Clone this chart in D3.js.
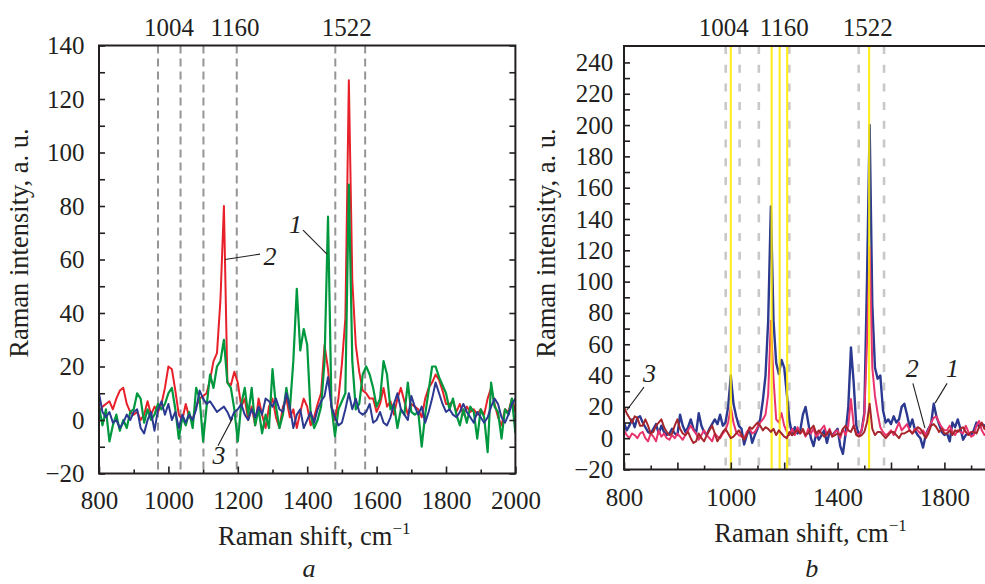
<!DOCTYPE html>
<html lang="en">
<head>
<meta charset="UTF-8">
<title>Raman spectra (a, b)</title>
<script src="https://cdn.jsdelivr.net/npm/d3@7"></script>
<style>
    body { margin: 0; background: #fff; }
    svg { display: block; }
    svg text { font-family: 'Liberation Serif', 'DejaVu Serif', 'Times New Roman', Times, serif; }
</style>
</head>
<body>
<svg width="985" height="584"></svg>
<script>
    // ---------- data ----------

    // panel a: Raman shift grid, cm-1
    const shiftA = d3.range(800, 2001, 10);

    // curve 1 (green)
    const spectrumA1 = [
        5, -2, 4, -8, -2, 2, -4, 0, -3, 3,          // 800
        4, 10, 8, -1, 4, 0, 2, 6, 4, 6,             // 900
        10, 12, 4, -7, 1, -2, 3, -3, 12, 8,         // 1000
        -8, 5, 17, 12, 20, 22, 30, 14, 12, 4,       // 1100
        -8, 6, 12, 2, 12, -2, 4, -5, 2, -3,         // 1200
        19, 5, -3, 2, 12, 4, 22, 49, 26, 34,        // 1300
        28, 2, -3, 0, 5, 22, 76, 5, -6, 4,          // 1400
        7, 10, 88, 22, 4, 6, 17, 20, 17, 12,        // 1500
        5, 8, 22, 17, 4, 6, -3, 4, 2, 14,           // 1600
        3, 2, 3, -10, 2, 11, 20, 20, 16, 13,        // 1700
        10, 4, 8, 2, -2, 4, -1, 5, 3, -7,           // 1800
        4, 1, -12, 14, 5, 3, -7, 4, 2, 8,           // 1900
        -5];
    // curve 2 (red)
    const spectrumA2 = [
        3, 5, 6, 7, 4, 8, 11, 12, 6, 3,
        2, 3, 0, 2, 7, 2, 5, 3, 6, 12,
        20, 19, 11, 2, 0, 6, 1, 0, 5, 8,
        9, 10, 15, 22, 25, 45, 80, 14, 13, 18,
        14, 5, 8, 0, 5, -2, 8, 2, -3, 5,
        8, 1, -3, 5, 8, 1, 4, -3, 3, 8,
        5, -2, 1, 6, 10, 28, 19, 5, 0, 8,
        21, 38, 127, 52, 28, 18, 11, 10, 8, 8,
        3, 6, 12, 5, 7, 2, 8, 12, 7, 2,
        6, 5, 4, 1, 8, 12, 14, 17, 15, 11,
        6, 6, 7, 3, 6, 2, 5, 3, 4, 2,
        4, 2, 8, 12, 6, 1, -2, 4, 3, 8,
        3];
    // curve 3 (blue)
    const spectrumA3 = [
        10, 3, 1, 3, -1, 0, -3, -1, 2, 0,
        3, 4, -3, -5, 0, 3, -4, 4, 7, 2,
        6, 0, 3, -3, 2, -1, 2, 0, 4, 11,
        8, 6, 7, 5, 3, 4, 5, 3, 0, 3,
        4, 6, 2, 0, 4, 1, 5, 2, 8, 7,
        5, 8, 4, 3, 10, 5, -3, 2, 4, -3,
        0, 3, -1, 4, 7, 9, 16, 5, 1, -2,
        -1, 4, 10, 4, 8, 3, 2, 3, 6, -1,
        0, 3, -1, -2, 1, 6, 10, 4, 2, 0,
        9, 5, 2, 5, -1, 3, 8, 14, 10, 6,
        3, 4, 2, 1, 3, 6, 3, 1, -1, 3,
        1, -1, 1, 5, 8, 6, 1, -1, 2, 6,
        8];

    // panel b: Raman shift grid, cm-1
    const shiftB = d3.range(600, 1961, 10);

    // curve 1 (blue)
    const spectrumB1 = [
        10, 5, 8, 12, 7, 13, 14, 10, 7, 4,          // 600
        3, 6, 9, 3, 8, 4, 2, 3, 6, 3,               // 700
        2, 15, 8, 4, 7, 12, 6, 3, 16, 8,            // 800
        4, 2, 6, 9, 12, 9, 15, 8, 10, 20,           // 900
        40, 22, 14, 8, 6, -4, 2, 6, -3, 2,          // 1000
        6, 12, 24, 40, 75, 148, 75, 48, 41, 50,     // 1100
        45, 28, 11, 2, 7, 3, 5, 15, 20, 10,         // 1200
        0, -5, 3, -1, 2, 5, -3, 4, 2, 4,            // 1300
        6, -5, -10, 3, 20, 58, 36, 8, 2, 5,         // 1400
        16, 100, 200, 85, 45, 38, 40, 18, 10, 12,   // 1500
        9, 14, 10, 12, 20, 22, 15, 7, 12, 5,        // 1600
        2, 0, -6, 2, 6, 9, 22, 14, 9, 4,            // 1700
        2, 3, -2, 10, 7, 12, 6, -1, 2, 3,           // 1800
        2, 5, 10, 7, 9, 8, 6];                      // 1900
    // curve 2 (pink)
    const spectrumB2 = [
        5, 2, 0, 3, 2, 0, 3, 4, 0, -2,
        3, 1, -2, 5, 1, 3, 0, -1, 2, 0,
        3, 1, -1, 2, 5, 8, 5, 3, -1, 2,
        5, 2, 0, -2, 3, 1, 0, 3, 5, 10,
        20, 10, 4, 2, 1, 0, 4, 6, 3, 4,
        7, 10, 12, 15, 28, 75, 38, 12, 10, 16,
        8, 4, 2, 6, 2, 7, 3, 5, 1, 6,
        3, 6, 1, 3, 6, 8, 2, 6, 1, 4,
        5, 0, 6, 2, 8, 25, 9, 3, 2, 5,
        14, 60, 122, 45, 27, 16, 7, 4, 2, 3,
        5, 2, 6, 10, 5, 7, 9, 5, 3, 6,
        5, 3, 5, 2, 5, 10, 13, 14, 10, 7,
        5, 5, 8, 4, 2, 5, 4, 3, 8, 4,
        1, 2, 8, 11, 5, 2, 3];
    // curve 3 (dark red)
    const spectrumB3 = [
        20, 16, 13, 10, 14, 13, 8, 8, 12, 8,
        3, 4, 8, 10, 12, 7, 4, 2, 3, 8,
        12, 6, 3, 2, 4, 0, -3, -2, 3, 0,
        -2, 2, 5, 8, 3, -2, 1, 4, 6, 3,
        0, 1, 3, 5, 2, -1, 2, 7, 6, 8,
        10, 8, 5, 7, 6, 4, 6, 2, 5, 3,
        1, 0, 4, 2, 4, 5, 3, 6, 2, 3,
        6, 8, 3, 5, 3, 1, 3, 5, 1, 2,
        3, 2, 6, 8, 5, 4, 8, 2, 1, 2,
        4, 10, 22, 6, 2, 4, 4, 2, 0, 2,
        4, 4, 2, 0, 3, 3, 4, 5, 3, 5,
        7, 6, 3, 0, 3, 8, 9, 7, 4, 6,
        3, 3, 5, 2, 5, 4, 6, 7, 4, 2,
        4, 4, 3, 7, 10, 6, 5];

    // band markers, cm-1
    const bandLabels = ["1004", "1160", "1522"];
    const dashedA = [970, 1035, 1101, 1197, 1481, 1567];
    const dashedB = [981, 1033, 1105, 1219, 1479, 1574];
    const yellowB = [1000, 1153, 1183, 1211, 1518];

    // ticks
    const xMajorA = [800, 1000, 1200, 1400, 1600, 1800, 2000];
    const xMinorA = [900, 1100, 1300, 1500, 1700, 1900];
    const xLabelA = ["800", "1000", "1200", "1400", "1600", "1800", "2000"];
    const yMajorA = [-20, 0, 20, 40, 60, 80, 100, 120, 140];
    const yMinorA = [-10, 10, 30, 50, 70, 90, 110, 130];

    const xMajorB = [600, 800, 1000, 1200, 1400, 1600, 1800, 2000];
    const xMinorB = [700, 900, 1100, 1300, 1500, 1700, 1900];
    const xTickB = [600, 1000, 1400, 1800];
    const xLabelB = ["800", "1000", "1400", "1800"];   // printed as in the original figure
    const yMajorB = [-20, 0, 20, 40, 60, 80, 100, 120, 140, 160, 180, 200, 220, 240];
    const yMinorB = [-10, 10, 30, 50, 70, 90, 110, 130, 150, 170, 190, 210, 230];

    const curveLabels = ["1", "2", "3"];

    // ---------- drawing ----------
    let svg = d3.select("svg");
    const ink = "#231f20";
    const serif = "'Liberation Serif', 'DejaVu Serif', 'Times New Roman', Times, serif";

    function drawPanel(p) {
        let g = svg.append("g");
        let x = d3.scaleLinear().domain(p.xDomain).range(p.xRange);
        let y = d3.scaleLinear().domain(p.yDomain).range(p.yRange);
        let [x0, x1] = p.xRange;
        let [yb, yt] = p.yRange;

        // clip region = plot frame
        g.append("clipPath").attr("id", "clip-" + p.id)
            .append("rect")
            .attr("x", x0).attr("y", yt)
            .attr("width", x1 - x0).attr("height", yb - yt);
        let plot = g.append("g").attr("clip-path", `url(#clip-${p.id})`);

        // dashed grey band lines
        plot.selectAll(".dash").data(p.dashed).enter().append("line")
            .attr("x1", d => x(d)).attr("x2", d => x(d))
            .attr("y1", yt).attr("y2", yb)
            .attr("stroke", p.dashColor)
            .attr("stroke-width", p.dashWidth)
            .attr("stroke-dasharray", p.dashArray);

        function drawSolid() {
            plot.selectAll(".solid").data(p.solid).enter().append("line")
                .attr("x1", d => x(d)).attr("x2", d => x(d))
                .attr("y1", yt).attr("y2", yb)
                .attr("stroke", "#ffec00")
                .attr("stroke-opacity", 0.85)
                .attr("stroke-width", 2.2);
        }

        let line = d3.line()
            .x((d, i) => x(p.shift[i]))
            .y(d => y(d));

        p.series.forEach((s, i) => {
            if (i === p.solidAt) drawSolid();
            plot.append("path")
                .datum(s.values)
                .attr("fill", "none")
                .attr("stroke", s.color)
                .attr("stroke-width", s.width)
                .attr("stroke-linejoin", "round")
                .attr("d", line);
        });

        // axes (ticks point inside)
        let bottom = g.append("g").attr("transform", `translate(0,${yb})`);
        bottom.append("g").call(d3.axisBottom(x)
            .tickValues(p.xMajor)
            .tickFormat(d => {
                let k = p.xTick.indexOf(d);
                return k < 0 ? "" : p.xLabel[k];
            })
            .tickSize(-7).tickSizeOuter(0).tickPadding(p.xPad));
        bottom.append("g").call(d3.axisBottom(x)
            .tickValues(p.xMinor).tickFormat("")
            .tickSize(-4).tickSizeOuter(0));

        let left = g.append("g").attr("transform", `translate(${x0},0)`);
        left.append("g").call(d3.axisLeft(y)
            .tickValues(p.yMajor)
            .tickSize(-6).tickSizeOuter(0).tickPadding(p.yPad));
        left.append("g").call(d3.axisLeft(y)
            .tickValues(p.yMinor).tickFormat("")
            .tickSize(-6).tickSizeOuter(0));

        if (p.mirror) {
            let right = g.append("g").attr("transform", `translate(${x1},0)`);
            right.append("g").call(d3.axisRight(y)
                .tickValues(p.yMajor.concat(p.yMinor)).tickFormat("")
                .tickSize(-6).tickSizeOuter(0));
        }

        g.selectAll(".domain").remove();
        g.selectAll(".tick line").attr("stroke", ink).attr("stroke-width", 1.6);
        g.selectAll("g").attr("font-family", null);
        g.selectAll(".tick text")
            .attr("font-family", serif)
            .attr("font-size", 25)
            .attr("fill", ink);

        // frame
        g.append("path")
            .attr("d", p.box
                ? `M${x0},${yt}H${x1}V${yb}H${x0}Z`
                : `M${x1},${yt}H${x0}V${yb}H${x1}`)
            .attr("fill", "none")
            .attr("stroke", ink)
            .attr("stroke-width", 2);

        // band labels above the frame
        g.selectAll(".band").data(bandLabels).enter().append("text")
            .attr("x", (d, i) => x(p.bandPos[i]))
            .attr("y", 36)
            .attr("text-anchor", "middle")
            .attr("font-family", serif)
            .attr("font-size", 25)
            .attr("fill", ink)
            .text(d => d);

        // curve numbers with leader lines
        curveLabels.forEach((lab, i) => {
            let a = p.notes[i];
            g.append("line")
                .attr("x1", x(a.from[0])).attr("y1", y(a.from[1]))
                .attr("x2", x(a.to[0])).attr("y2", y(a.to[1]))
                .attr("stroke", ink).attr("stroke-width", 1.1);
            g.append("text")
                .attr("x", x(a.text[0])).attr("y", y(a.text[1]))
                .attr("text-anchor", "middle")
                .attr("font-family", serif)
                .attr("font-size", 26)
                .attr("font-style", "italic")
                .attr("fill", ink)
                .text(lab);
        });

        // axis titles
        let xt = g.append("text")
            .attr("x", p.xTitleX).attr("y", p.xTitleY)
            .attr("font-family", serif)
            .attr("font-size", 26.5).attr("fill", ink);
        xt.append("tspan").text("Raman shift, cm");
        xt.append("tspan").attr("dy", -11).attr("font-size", 17).text("\u22121");

        g.append("text")
            .attr("transform", `translate(${p.yTitleX},243) rotate(-90)`)
            .attr("text-anchor", "middle")
            .attr("font-family", serif)
            .attr("font-size", 26.5).attr("fill", ink)
            .text("Raman intensity, a. u.");

        g.append("text")
            .attr("x", p.panelX).attr("y", 577)
            .attr("text-anchor", "middle")
            .attr("font-family", serif)
            .attr("font-size", 26).attr("font-style", "italic")
            .attr("fill", ink)
            .text(p.panel);
    }

    drawPanel({
        id: "a", panel: "a", panelX: 309,
        shift: shiftA,
        xDomain: [800, 2000], xRange: [99, 515.4],
        yDomain: [-20, 140], yRange: [473.5, 45.5],
        xMajor: xMajorA, xMinor: xMinorA, xTick: xMajorA, xLabel: xLabelA, xPad: 18,
        yMajor: yMajorA, yMinor: yMinorA, yPad: 14.5,
        mirror: true, box: true,
        dashed: dashedA, dashColor: "#959595", dashWidth: 2, dashArray: "8,5",
        solid: [], solidAt: -1,
        series: [
            {values: spectrumA2, color: "#e8202a", width: 2},
            {values: spectrumA1, color: "#00983f", width: 2.2},
            {values: spectrumA3, color: "#2b3990", width: 2}
        ],
        bandPos: [1002, 1192, 1514],
        notes: [
            {text: [1366, 70], from: [1388, 71], to: [1457, 62]},
            {text: [1293, 58], from: [1163, 60], to: [1264, 62]},
            {text: [1146, -16.5], from: [1143, -9.6], to: [1185, 0.7]}
        ],
        xTitleX: 218, xTitleY: 545, yTitleX: 28
    });

    drawPanel({
        id: "b", panel: "b", panelX: 811.7,
        shift: shiftB,
        xDomain: [600, 2000], xRange: [624, 997.8],
        yDomain: [-20, 250.5], yRange: [469.5, 46],
        xMajor: xMajorB, xMinor: xMinorB, xTick: xTickB, xLabel: xLabelB, xPad: 19,
        yMajor: yMajorB, yMinor: yMinorB, yPad: 10.7,
        mirror: false, box: false,
        dashed: dashedB, dashColor: "#c8c8c8", dashWidth: 2.6, dashArray: "8,10.7",
        solid: yellowB, solidAt: 2,
        series: [
            {values: spectrumB1, color: "#2b3990", width: 2.4},
            {values: spectrumB2, color: "#e8336d", width: 2},
            {values: spectrumB3, color: "#a6262c", width: 2}
        ],
        bandPos: [974, 1200, 1513],
        notes: [
            {text: [1830, 39], from: [1810, 35], to: [1765, 22.4]},
            {text: [1680, 39], from: [1682, 35], to: [1727, 6.4]},
            {text: [695.5, 36], from: [675, 32.6], to: [611, 18]}
        ],
        xTitleX: 714.3, xTitleY: 542, yTitleX: 554.5
    });
</script>
</body>
</html>
